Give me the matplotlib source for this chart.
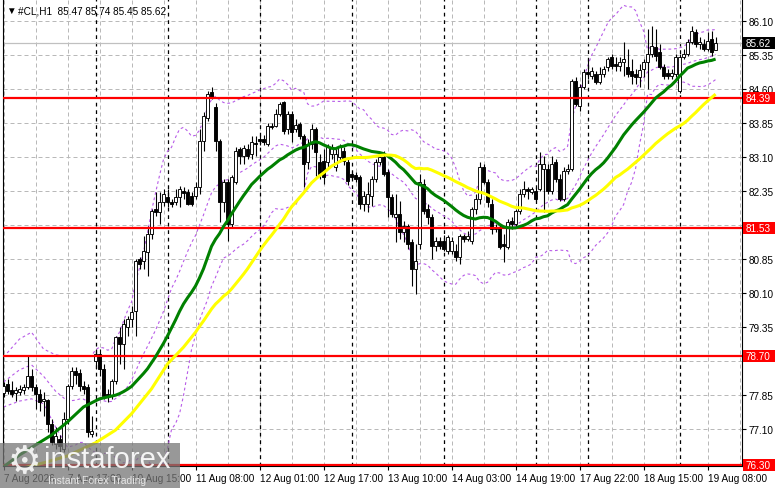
import numpy as np
import pandas as pd
import matplotlib
matplotlib.use("Agg")
import matplotlib.pyplot as plt
import matplotlib.transforms as mtransforms
from matplotlib.patches import Rectangle

plt.rcParams['font.family'] = ['Liberation Sans', 'DejaVu Sans']

# hourly #CL candles (oldest first)
opens = [
    77.89, 78.09, 77.95, 77.89, 77.91, 77.95, 78.02, 78.26, 78.02, 77.87,
    77.71, 77.73, 77.20, 76.76, 76.87, 76.65, 77.31, 78.04, 78.37, 78.33,
    78.04, 78.02, 76.98, 78.60, 78.75, 78.42, 77.87, 77.82, 78.15, 79.13,
    78.97, 79.35, 79.52, 79.70, 80.85, 80.80, 81.00, 81.40, 81.95, 81.88,
    82.11, 82.22, 82.11, 82.11, 82.22, 82.35, 82.33, 82.24, 82.24, 82.44,
    83.45, 83.96, 84.53, 84.20, 83.45, 82.11, 82.55, 81.62, 82.55, 83.27,
    83.12, 83.27, 83.16, 83.41, 83.50, 83.50, 83.39, 83.78, 83.78, 84.05,
    84.31, 83.72, 84.05, 83.72, 83.83, 83.56, 82.99, 83.39, 83.72, 82.99,
    83.01, 82.99, 83.16, 82.88, 83.10, 83.23, 82.99, 82.72, 82.70, 82.65,
    82.06, 82.06, 82.24, 82.61, 82.99, 83.10, 82.77, 82.22, 81.77, 81.84,
    81.44, 81.57, 81.22, 80.63, 81.18, 82.50, 81.95, 81.77, 81.13, 81.24,
    81.24, 81.02, 81.02, 81.02, 80.89, 81.35, 81.29, 81.24, 81.95, 82.17,
    82.88, 82.55, 82.06, 81.51, 81.55, 81.18, 81.11, 81.69, 81.62, 81.91,
    82.28, 82.39, 82.33, 82.35, 82.39, 82.83, 82.83, 82.35, 82.99, 82.61,
    82.17, 82.79, 82.83, 84.78, 84.22, 84.64, 84.97, 84.89, 84.93, 84.75,
    84.93, 85.08, 85.31, 85.15, 85.11, 85.20, 85.08, 85.00, 84.93, 84.86,
    85.04, 85.20, 85.37, 85.53, 85.42, 85.08, 84.95, 84.89, 84.93, 84.55,
    85.31, 85.37, 85.64, 85.86, 85.59, 85.59, 85.48, 85.70, 85.47,
]
highs = [
    78.13, 78.20, 78.15, 78.02, 78.06, 78.09, 78.70, 78.42, 78.09, 77.98,
    77.91, 77.76, 77.31, 77.14, 76.96, 77.47, 78.09, 78.46, 78.46, 78.42,
    78.15, 78.09, 77.38, 78.86, 78.86, 78.53, 77.98, 78.20, 79.15, 79.35,
    79.52, 79.59, 79.81, 80.85, 80.89, 81.35, 81.57, 81.95, 82.33, 82.33,
    82.39, 82.39, 82.17, 82.39, 82.46, 82.44, 82.39, 82.33, 82.55, 83.72,
    84.09, 84.55, 84.64, 84.29, 83.50, 82.61, 82.61, 82.70, 83.32, 83.32,
    83.36, 83.39, 83.56, 83.56, 83.58, 83.58, 83.85, 83.85, 84.16, 84.31,
    84.33, 84.11, 84.11, 83.94, 83.87, 83.61, 83.50, 83.83, 83.76, 83.16,
    83.27, 83.39, 83.39, 83.27, 83.39, 83.32, 83.05, 82.79, 82.77, 82.70,
    82.35, 82.55, 82.68, 83.05, 83.16, 83.23, 82.83, 82.28, 82.28, 82.13,
    81.69, 81.62, 81.29, 81.18, 82.72, 82.61, 82.06, 81.84, 81.33, 81.33,
    81.38, 81.38, 81.33, 81.18, 81.40, 81.40, 81.46, 81.99, 82.28, 82.99,
    82.94, 82.61, 82.17, 81.62, 81.62, 81.40, 81.73, 81.77, 81.95, 82.39,
    82.57, 82.44, 82.44, 82.44, 83.21, 83.12, 82.94, 83.12, 83.05, 82.72,
    82.88, 82.94, 84.82, 84.86, 84.71, 85.04, 85.26, 85.08, 85.00, 85.08,
    85.11, 85.31, 85.37, 85.31, 85.31, 85.64, 85.48, 85.26, 85.04, 85.15,
    85.26, 85.92, 85.99, 85.92, 85.59, 85.15, 85.04, 85.04, 85.37, 85.37,
    85.48, 85.70, 85.99, 85.92, 85.75, 85.70, 85.86, 85.88, 85.74,
]
lows = [
    77.80, 77.87, 77.80, 77.71, 77.84, 77.87, 77.98, 77.93, 77.54, 77.49,
    77.38, 77.03, 76.74, 76.65, 76.54, 76.59, 77.20, 77.98, 78.09, 77.93,
    77.87, 76.92, 76.92, 78.42, 78.26, 77.76, 77.69, 77.76, 78.09, 78.53,
    78.42, 79.15, 79.35, 79.15, 80.63, 80.63, 80.47, 81.29, 81.80, 81.62,
    82.02, 81.99, 81.99, 82.04, 81.99, 82.17, 82.04, 82.02, 82.17, 82.28,
    83.23, 83.89, 84.38, 83.23, 81.66, 81.88, 81.24, 81.55, 82.50, 82.94,
    82.94, 83.05, 83.05, 83.12, 83.36, 83.36, 83.34, 83.72, 83.76, 84.00,
    83.61, 83.61, 83.43, 83.65, 83.50, 82.44, 82.83, 83.27, 82.68, 82.61,
    82.50, 82.83, 83.05, 82.79, 82.99, 82.92, 82.48, 82.61, 82.55, 81.95,
    81.91, 81.88, 82.02, 82.55, 82.92, 82.68, 81.77, 81.77, 81.22, 81.29,
    81.22, 81.07, 80.25, 80.07, 81.07, 81.84, 81.62, 80.85, 81.02, 81.07,
    81.02, 80.96, 80.96, 80.80, 80.74, 81.22, 81.24, 81.18, 81.84, 82.06,
    82.50, 81.99, 81.40, 81.44, 81.07, 80.78, 81.07, 81.51, 81.55, 81.84,
    82.22, 82.17, 82.28, 82.13, 82.35, 81.88, 82.28, 82.28, 82.55, 82.13,
    82.13, 82.72, 82.79, 84.22, 84.11, 84.60, 84.82, 84.82, 84.71, 84.71,
    84.86, 85.00, 85.04, 85.00, 85.00, 84.89, 84.86, 84.71, 84.71, 84.64,
    84.86, 84.60, 85.31, 85.22, 85.04, 84.82, 84.82, 84.82, 84.86, 84.51,
    85.26, 85.33, 85.59, 85.53, 85.48, 85.44, 85.44, 85.33, 85.45,
]
closes = [
    78.04, 77.93, 77.87, 77.95, 77.98, 78.02, 78.26, 78.02, 77.87, 77.69,
    77.76, 77.20, 76.81, 76.94, 76.72, 77.31, 78.04, 78.37, 78.29, 78.04,
    77.98, 77.03, 77.05, 78.75, 78.42, 77.82, 77.80, 78.15, 79.13, 78.97,
    79.41, 79.52, 79.68, 80.80, 80.74, 81.02, 81.40, 81.91, 81.88, 82.11,
    82.28, 82.11, 82.06, 82.22, 82.39, 82.30, 82.06, 82.06, 82.44, 83.45,
    84.00, 84.49, 84.42, 83.45, 82.11, 82.55, 81.62, 82.65, 83.23, 83.12,
    83.30, 83.12, 83.43, 83.39, 83.45, 83.43, 83.78, 83.76, 84.05, 84.27,
    83.67, 84.05, 83.65, 83.80, 83.56, 82.94, 83.39, 83.72, 83.21, 82.72,
    82.65, 83.32, 83.32, 83.16, 83.32, 83.01, 82.57, 82.65, 82.61, 82.06,
    82.24, 82.28, 82.61, 82.99, 83.10, 82.72, 82.22, 81.84, 81.84, 81.44,
    81.57, 81.18, 80.63, 80.80, 82.55, 81.91, 81.77, 81.13, 81.24, 81.13,
    81.07, 81.33, 81.24, 80.89, 81.35, 81.29, 81.35, 81.95, 82.17, 82.88,
    82.55, 82.11, 81.51, 81.55, 81.11, 81.13, 81.66, 81.62, 81.91, 82.28,
    82.39, 82.35, 82.39, 82.17, 82.94, 82.94, 82.35, 82.94, 82.61, 82.17,
    82.79, 82.83, 84.78, 84.27, 84.64, 84.97, 84.93, 85.00, 84.75, 84.93,
    85.04, 85.26, 85.11, 85.11, 85.20, 85.26, 84.93, 84.89, 84.86, 85.02,
    85.20, 85.37, 85.55, 85.33, 85.08, 84.89, 84.89, 84.95, 85.31, 85.31,
    85.37, 85.64, 85.88, 85.59, 85.64, 85.48, 85.66, 85.42, 85.62,
]

# indicator values visible at the left edge (their history lies before the first bar)
green_early_bars = [0, 4, 8, 12, 16, 20, 24, 28]
green_early = [76.26, 76.52, 76.74, 76.96, 77.25, 77.58, 77.76, 77.84]
yellow_early_bars = [4, 11, 16, 23, 28, 32, 37, 41, 45, 48]
yellow_early = [76.21, 76.37, 76.50, 76.79, 77.07, 77.43, 77.98, 78.53, 78.90, 79.23]
bb_early_bars = [0, 4, 7, 10, 13, 16, 18]
bb_up_early = [78.68, 79.08, 79.23, 78.86, 78.73, 78.70, 78.70]
bb_mid_early = [78.13, 78.40, 78.51, 78.26, 77.93, 77.71, 77.73]
bb_lo_early = [77.58, 77.71, 77.76, 77.65, 77.14, 76.69, 76.74]

grid_prices = [77.10, 77.85, 78.60, 79.35, 80.10, 80.85, 81.60,
               82.35, 83.10, 83.85, 84.60, 85.35, 86.10]
# 81.60 and 78.60 sit under the red level boxes, so only these get a label
label_prices = [77.10, 77.85, 79.35, 80.10, 80.85,
                82.35, 83.10, 83.85, 84.60, 85.35, 86.10]
level_lines = [84.39, 81.53, 78.70, 76.30]
last_price = 85.62
time_labels = ["7 Aug 2026", "7 Aug 17:00", "10 Aug 15:00", "11 Aug 08:00",
               "12 Aug 01:00", "12 Aug 17:00", "13 Aug 10:00", "14 Aug 03:00",
               "14 Aug 19:00", "17 Aug 22:00", "18 Aug 15:00", "19 Aug 08:00"]
day_starts = [23, 41, 64, 87, 110, 133, 146, 169]
title = "#CL,H1  85.47 85.74 85.45 85.62"

W, H = 781, 489
fig = plt.figure(figsize=(W / 100, H / 100), dpi=100)
fig.patch.set_facecolor("white")
ax = fig.add_axes([3 / W, 22 / H, 739 / W, 467 / H])
ax.set_xlim(-0.125, 184.6)
ax.set_ylim(76.277, 86.586)

o = np.array(opens)
h = np.array(highs)
l = np.array(lows)
c = np.array(closes)
n = len(c)
x = np.arange(n)

# grid
for p in grid_prices:
    ax.axhline(p, color="#b9b9b9", lw=0.72, ls=(0, (4, 3)), zorder=0)
for i in range(0, 185, 8):
    ax.axvline(i, color="#b9b9b9", lw=0.72, ls=(0, (4, 3)), zorder=0)
for i in day_starts:
    ax.axvline(i, color="black", lw=0.9, ls=(0, (3, 3)), zorder=1)
ax.axhline(last_price, color="#c0c0c0", lw=0.9, zorder=1)

# indicators: SMA30 (green), SMA50 (yellow), Bollinger 20/2 (violet)
cs = pd.Series(c)
sma30 = cs.rolling(30).mean().to_numpy()
sma50 = cs.rolling(50).mean().to_numpy()
mid20 = cs.rolling(20).mean().to_numpy()
std20 = cs.rolling(20).std(ddof=0).to_numpy()


def join(bars, vals, series, start):
    return (list(bars) + list(range(start, n)),
            list(vals) + list(series[start:]))


bb_col = "#b85ce8"
for early, sign in [(bb_up_early, 2), (bb_mid_early, 0), (bb_lo_early, -2)]:
    bx, by = join(bb_early_bars, early, mid20 + sign * std20, 19)
    ax.plot(bx, by, color=bb_col, lw=0.8, ls=(0, (2.5, 2.5)), zorder=2)

# candles
ax.vlines(x, l, h, color="black", lw=0.8, zorder=3)
body_lo = np.minimum(o, c)
body_h = np.maximum(np.abs(c - o), 0.012)
ax.bar(x, body_h, bottom=body_lo, width=0.62,
       color=np.where(c >= o, "white", "black"),
       edgecolor="black", linewidth=0.65, zorder=4)

for lv in level_lines:
    ax.axhline(lv, color="#ff0000", lw=1.6, zorder=5)

gx, gy = join(green_early_bars, green_early, sma30, 29)
ax.plot(gx, gy, color="#008000", lw=2.2, zorder=6, solid_capstyle="butt")
yx, yy = join(yellow_early_bars, yellow_early, sma50, 49)
ax.plot(yx, yy, color="#ffff00", lw=2.2, zorder=6, solid_capstyle="butt")

# axes styling
for side in ["left", "right", "bottom"]:
    ax.spines[side].set_color("black")
    ax.spines[side].set_linewidth(0.8)
ax.spines["top"].set_visible(False)
ax.yaxis.tick_right()
ax.set_yticks(label_prices)
ax.set_yticklabels([f"{p:.2f}" for p in label_prices])
ax.set_xticks(range(0, 16 * len(time_labels), 16))
ax.set_xticklabels(time_labels, ha="left")
ax.tick_params(axis="y", direction="out", length=3, width=0.8, pad=2, labelsize=7.2)
ax.tick_params(axis="x", direction="out", length=3, width=0.8, pad=2, labelsize=7.2)

# price boxes on the right scale
blend = mtransforms.blended_transform_factory(fig.transFigure, ax.transData)
box_h = 12 / 45.3
for lv, face in [(lv, "#ff0000") for lv in level_lines] + [(last_price, "black")]:
    fig.add_artist(Rectangle((743 / W, lv - box_h / 2), 32 / W, box_h,
                             transform=blend, facecolor=face, edgecolor="none",
                             zorder=5))
    fig.text(746 / W, lv, f"{lv:.2f}", transform=blend, color="white",
             fontsize=7.2, va="center", ha="left", zorder=6)

# title
fig.text(6 / W, 1 - 11 / H, "\u25bc", fontsize=7, va="center", ha="left")
fig.text(18 / W, 1 - 11 / H, title, fontsize=7.2, va="center", ha="left")

# watermark
fig.add_artist(Rectangle((0, 0), 180 / W, 45 / H, transform=fig.transFigure,
                         facecolor="#767676", edgecolor="none", alpha=0.75, zorder=10))
fig.text(24 / W, 1 - 463 / H, "\u2699", fontsize=27, color="white", alpha=0.85,
         ha="center", va="center", family="DejaVu Sans", zorder=11)
fig.text(44 / W, 1 - 460 / H, "instaforex", fontsize=21, color="white", alpha=0.9,
         ha="left", va="center", zorder=11)
fig.text(48 / W, 1 - 481 / H, "Instant Forex Trading", fontsize=7.5, color="#e6e6e6",
         ha="left", va="center", zorder=11)

fig.savefig("out.png", dpi=100)
